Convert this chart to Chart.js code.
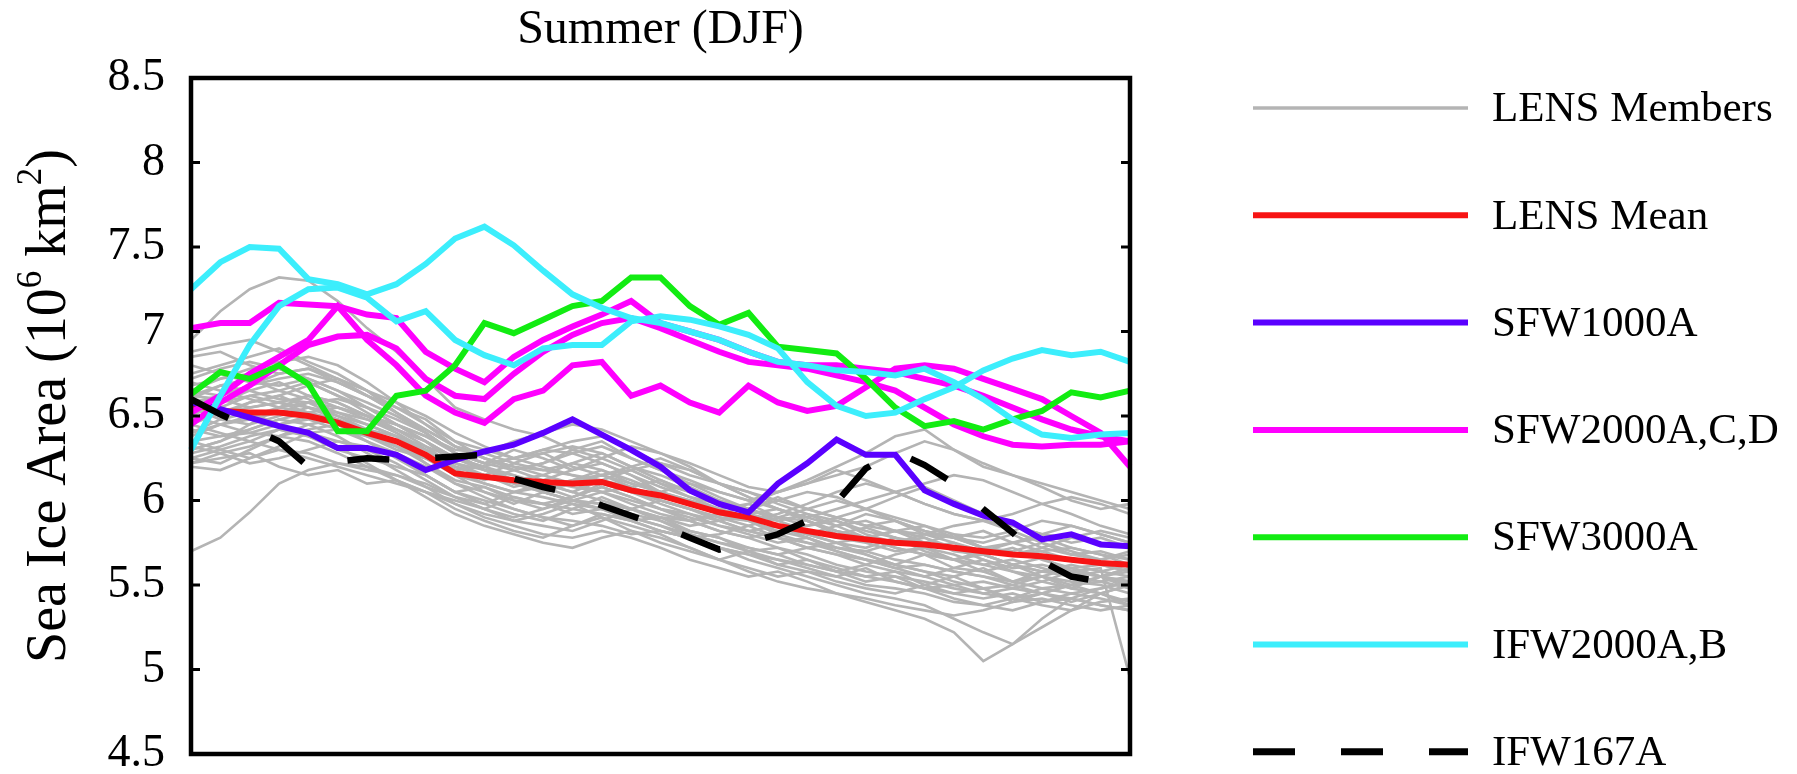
<!DOCTYPE html>
<html><head><meta charset="utf-8">
<script src="https://cdn.jsdelivr.net/npm/chart.js@4.4.0/dist/chart.umd.min.js"></script>
<style>html,body{margin:0;padding:0;background:#fff;overflow:hidden}</style>
</head><body>
<canvas id="c" width="1797" height="774"></canvas>
<script>
const years = ['2018','2019','2020','2021','2022','2023','2024','2025','2026','2027','2028','2029','2030','2031','2032','2033','2034','2035','2036','2037','2038','2039','2040','2041','2042','2043','2044','2045','2046','2047','2048','2049','2050'];
const yTicks = [4.5,5,5.5,6,6.5,7,7.5,8,8.5];

const lensMembers = [
[6.95,7.12,7.25,7.32,7.30,7.18,7.02,6.88,6.72,6.55,6.48,6.42,6.38,6.30,6.25,6.18,6.10,6.05,5.98,5.92,5.95,5.88,5.80,5.84,5.78,5.72,5.75,5.68,5.62,5.66,5.58,5.55,5.52],
[5.70,5.78,5.93,6.10,6.18,6.22,6.20,6.15,6.08,6.02,5.95,5.88,5.92,5.98,5.90,5.85,5.80,5.72,5.65,5.70,5.62,5.58,5.55,5.60,5.52,5.48,5.50,5.45,5.42,5.48,5.50,5.45,5.40],
[6.85,6.88,6.80,6.75,6.78,6.70,6.62,6.55,6.48,6.35,6.30,6.25,6.28,6.20,6.15,6.18,6.10,6.02,5.95,5.98,5.90,5.85,5.88,5.80,5.75,5.78,5.70,5.68,5.72,5.65,5.60,5.62,5.58],
[6.22,6.25,6.28,6.20,6.15,6.18,6.10,6.12,6.05,6.00,5.95,6.02,5.98,5.92,5.95,5.88,5.90,5.82,5.78,5.70,5.72,5.65,5.60,5.55,5.58,5.50,5.45,5.48,5.40,5.42,5.38,5.35,5.38],
[6.60,6.68,6.72,6.65,6.70,6.62,6.55,6.48,6.40,6.28,6.22,6.30,6.25,6.18,6.22,6.15,6.05,6.10,6.02,5.95,5.88,5.92,5.85,5.78,5.82,5.75,5.80,5.72,5.70,5.75,5.68,5.65,5.70],
[6.45,6.40,6.35,6.42,6.38,6.30,6.25,6.20,6.15,6.05,6.08,6.00,5.95,6.02,6.10,6.05,5.98,5.92,5.85,5.80,5.75,5.78,5.70,5.65,5.62,5.68,5.60,5.58,5.62,5.55,5.50,5.55,5.48],
[6.75,6.80,6.85,6.90,6.82,6.75,6.65,6.52,6.42,6.32,6.25,6.20,6.15,6.22,6.28,6.20,6.15,6.08,6.00,5.95,6.02,5.95,5.90,5.85,5.88,5.80,5.78,5.82,5.75,5.70,5.72,5.68,5.65],
[6.30,6.35,6.45,6.55,6.58,6.50,6.42,6.35,6.22,6.10,6.05,5.98,6.05,6.12,6.15,6.08,6.00,5.95,5.90,5.85,5.78,5.72,5.75,5.68,5.62,5.58,5.55,5.60,5.52,5.55,5.48,5.45,5.50],
[6.55,6.50,6.58,6.62,6.55,6.48,6.38,6.30,6.25,6.18,6.12,6.18,6.22,6.30,6.35,6.25,6.18,6.12,6.05,6.00,5.95,5.90,5.85,5.88,5.82,5.85,5.78,5.75,5.80,5.72,5.68,5.70,5.65],
[6.40,6.48,6.52,6.45,6.40,6.35,6.32,6.28,6.20,6.10,6.02,5.95,5.90,5.85,5.92,5.88,5.82,5.78,5.72,5.68,5.62,5.65,5.58,5.52,5.55,5.48,5.45,5.42,5.45,5.40,5.42,5.38,5.35],
[6.65,6.72,6.78,6.82,6.85,6.80,6.70,6.58,6.45,6.32,6.25,6.18,6.12,6.08,6.05,6.00,5.95,5.92,5.88,5.82,5.85,5.80,5.75,5.72,5.78,5.70,5.65,5.68,5.62,5.58,5.60,5.55,5.52],
[6.25,6.22,6.30,6.38,6.45,6.48,6.40,6.32,6.25,6.18,6.20,6.12,6.05,6.00,6.05,5.98,5.92,5.88,5.82,5.78,5.82,5.85,5.90,5.95,6.02,6.08,6.00,5.92,5.85,5.80,5.75,5.78,5.72],
[6.50,6.58,6.65,6.70,6.62,6.55,6.50,6.42,6.32,6.20,6.15,6.08,6.12,6.18,6.25,6.32,6.28,6.20,6.10,6.05,5.98,5.92,5.88,5.82,5.78,5.75,5.72,5.65,5.60,5.62,5.58,5.55,5.58],
[6.35,6.30,6.25,6.32,6.40,6.42,6.35,6.28,6.15,6.05,5.98,5.92,5.88,5.95,6.02,5.95,5.88,5.80,5.75,5.70,5.65,5.60,5.55,5.50,5.48,5.45,5.40,5.38,5.42,5.45,5.50,5.52,5.48],
[6.70,6.65,6.60,6.55,6.62,6.58,6.50,6.45,6.38,6.30,6.28,6.35,6.40,6.45,6.42,6.35,6.28,6.22,6.15,6.08,6.05,6.10,6.18,6.12,6.05,5.98,5.92,5.88,5.85,5.80,5.78,5.75,5.72],
[6.28,6.32,6.38,6.42,6.38,6.32,6.22,6.12,6.05,5.95,5.88,5.82,5.78,5.85,5.90,5.82,5.75,5.70,5.65,5.60,5.55,5.58,5.52,5.48,5.45,5.50,5.55,5.48,5.42,5.38,5.35,5.40,5.42],
[6.80,6.75,6.70,6.68,6.72,6.65,6.58,6.50,6.40,6.28,6.18,6.12,6.15,6.10,6.05,6.08,6.12,6.05,5.98,5.92,5.88,5.82,5.78,5.75,5.70,5.72,5.68,5.62,5.65,5.60,5.55,5.58,5.62],
[6.45,6.52,6.58,6.62,6.68,6.72,6.65,6.55,6.45,6.35,6.25,6.20,6.18,6.22,6.18,6.10,6.05,5.98,5.92,5.88,5.80,5.75,5.72,5.70,5.75,5.80,5.85,5.88,5.82,5.75,5.70,5.65,5.68],
[6.20,6.18,6.25,6.30,6.28,6.22,6.18,6.15,6.10,6.02,5.98,6.05,6.10,6.05,6.00,5.95,5.90,5.85,5.88,5.92,5.85,5.78,5.72,5.68,5.62,5.58,5.52,5.48,5.50,5.55,5.60,5.55,5.50],
[6.62,6.60,6.55,6.58,6.52,6.48,6.42,6.38,6.30,6.22,6.18,6.15,6.10,6.05,6.12,6.18,6.22,6.18,6.10,6.02,5.95,5.90,5.95,6.00,6.05,6.10,6.15,6.12,6.05,5.98,5.92,5.85,5.80],
[6.38,6.45,6.50,6.55,6.52,6.45,6.35,6.25,6.15,6.05,6.00,5.95,5.90,5.88,5.85,5.80,5.82,5.78,5.72,5.68,5.65,5.62,5.58,5.55,5.52,5.48,5.42,5.38,5.35,5.40,5.45,5.42,5.38],
[6.58,6.62,6.68,6.72,6.75,6.70,6.62,6.52,6.40,6.28,6.22,6.25,6.30,6.28,6.22,6.15,6.08,6.02,5.98,5.95,6.00,6.05,6.02,5.95,5.90,5.85,5.80,5.78,5.82,5.88,5.85,5.80,5.75],
[6.32,6.28,6.22,6.25,6.30,6.35,6.30,6.22,6.12,6.02,5.95,5.90,5.95,6.00,5.95,5.90,5.85,5.78,5.72,5.65,5.60,5.55,5.50,5.45,5.42,5.38,5.30,5.22,5.15,5.25,5.35,5.45,5.50],
[6.52,6.55,6.50,6.45,6.48,6.42,6.38,6.32,6.25,6.15,6.10,6.05,6.08,6.12,6.18,6.12,6.05,6.00,5.95,5.90,5.85,5.80,5.85,5.92,5.88,5.82,5.78,5.72,5.68,5.70,5.65,5.62,5.58],
[6.68,6.72,6.75,6.78,6.72,6.65,6.55,6.45,6.35,6.22,6.15,6.10,6.05,6.00,5.98,5.92,5.88,5.82,5.78,5.72,5.68,5.72,5.68,5.62,5.58,5.55,5.50,5.52,5.48,5.45,5.50,5.55,5.60],
[6.42,6.38,6.42,6.48,6.52,6.55,6.48,6.40,6.30,6.20,6.15,6.22,6.28,6.32,6.28,6.20,6.12,6.05,6.00,5.95,5.90,5.88,5.82,5.78,5.72,5.68,5.65,5.62,5.58,5.55,5.52,5.50,5.45],
[6.48,6.55,6.62,6.65,6.60,6.52,6.45,6.38,6.28,6.15,6.05,6.00,5.98,5.95,5.92,5.88,5.82,5.78,5.80,5.85,5.90,5.95,6.00,5.95,5.88,5.82,5.78,5.72,5.75,5.78,5.72,5.68,5.62],
[6.60,6.58,6.62,6.58,6.55,6.50,6.45,6.38,6.32,6.25,6.20,6.15,6.08,6.02,6.08,6.02,5.95,5.90,5.85,5.82,5.78,5.72,5.68,5.65,5.60,5.62,5.58,5.55,5.50,5.45,5.40,5.45,5.38],
[6.25,6.30,6.35,6.30,6.25,6.20,6.15,6.10,6.05,5.98,5.92,5.88,5.85,5.82,5.88,5.95,6.00,5.95,5.88,5.82,5.78,5.75,5.70,5.65,5.60,5.55,5.60,5.65,5.58,5.52,5.48,5.55,5.60],
[6.72,6.78,6.82,6.78,6.70,6.62,6.52,6.42,6.35,6.25,6.20,6.25,6.30,6.35,6.38,6.30,6.22,6.15,6.10,6.05,6.00,5.95,5.90,5.85,5.82,5.80,5.75,5.70,5.68,5.72,5.78,5.82,5.78],
[6.35,6.38,6.40,6.45,6.50,6.45,6.40,6.32,6.22,6.12,6.08,6.02,5.98,6.02,6.08,6.02,5.95,5.88,5.82,5.78,5.72,5.68,5.62,5.58,5.55,5.52,5.48,5.45,5.48,5.52,5.58,5.60,4.95],
[6.55,6.48,6.45,6.50,6.55,6.52,6.48,6.42,6.35,6.25,6.18,6.12,6.05,6.00,5.98,5.95,5.90,5.88,5.92,5.98,6.05,6.10,6.15,6.20,6.28,6.35,6.30,6.22,6.15,6.08,6.00,5.95,5.98],
[6.30,6.35,6.42,6.48,6.45,6.38,6.28,6.18,6.08,5.98,5.90,5.85,5.80,5.78,5.82,5.78,5.72,5.65,5.60,5.55,5.58,5.52,5.45,5.40,5.35,5.30,5.22,5.05,5.15,5.30,5.42,5.48,5.52],
[6.62,6.68,6.65,6.60,6.58,6.55,6.50,6.45,6.38,6.28,6.22,6.18,6.22,6.28,6.32,6.25,6.18,6.10,6.05,6.00,6.05,6.12,6.20,6.28,6.38,6.42,6.30,6.20,6.15,6.10,6.05,6.00,5.95],
[6.40,6.45,6.48,6.52,6.58,6.60,6.55,6.45,6.35,6.25,6.18,6.12,6.08,6.12,6.15,6.10,6.05,6.00,5.95,5.90,5.85,5.80,5.75,5.78,5.82,5.78,5.72,5.68,5.62,5.58,5.55,5.52,5.55],
[6.88,6.92,6.95,6.88,6.80,6.72,6.62,6.52,6.42,6.32,6.28,6.22,6.18,6.15,6.10,6.05,6.00,5.95,5.90,5.88,5.82,5.78,5.72,5.70,5.65,5.62,5.58,5.55,5.52,5.58,5.62,5.58,5.55],
[6.50,6.45,6.40,6.38,6.42,6.45,6.40,6.35,6.28,6.20,6.15,6.10,6.05,6.10,6.15,6.20,6.25,6.18,6.10,6.02,5.95,5.88,5.82,5.78,5.72,5.68,5.65,5.70,5.75,5.80,5.85,5.80,5.75],
[6.22,6.28,6.32,6.38,6.35,6.28,6.20,6.12,6.02,5.92,5.85,5.80,5.75,5.72,5.78,5.82,5.78,5.72,5.65,5.58,5.52,5.48,5.45,5.42,5.38,5.35,5.32,5.35,5.40,5.45,5.42,5.38,5.35],
[6.65,6.62,6.68,6.75,6.78,6.72,6.65,6.58,6.50,6.40,6.32,6.25,6.20,6.15,6.12,6.08,6.02,5.98,5.92,5.88,5.92,5.98,6.05,6.10,6.05,5.98,5.92,5.88,5.92,5.98,6.02,5.98,5.92],
[6.48,6.52,6.55,6.58,6.62,6.58,6.50,6.40,6.30,6.18,6.10,6.05,6.02,5.98,5.95,5.90,5.85,5.80,5.75,5.72,5.68,5.62,5.58,5.62,5.68,5.72,5.65,5.58,5.52,5.48,5.45,5.48,5.52]
];
const lensMean = [6.57,6.53,6.52,6.52,6.50,6.46,6.40,6.35,6.27,6.16,6.14,6.12,6.11,6.10,6.11,6.06,6.03,5.98,5.93,5.90,5.85,5.82,5.79,5.77,5.75,5.74,5.72,5.70,5.68,5.67,5.65,5.63,5.62];
const sfw1000A = [6.58,6.54,6.49,6.44,6.40,6.31,6.31,6.27,6.18,6.24,6.29,6.33,6.40,6.48,6.39,6.30,6.20,6.06,5.98,5.93,6.10,6.22,6.36,6.27,6.27,6.06,5.98,5.91,5.87,5.77,5.80,5.74,5.73];
const sfw2000A = [7.02,7.05,7.05,7.17,7.16,7.15,7.10,7.08,6.88,6.78,6.70,6.85,6.95,7.03,7.10,7.18,7.05,7.00,6.95,6.88,6.82,6.80,6.80,6.78,6.76,6.72,6.68,6.62,6.55,6.48,6.42,6.38,6.35];
const sfw2000C = [6.52,6.62,6.75,6.85,6.95,7.15,6.95,6.80,6.62,6.52,6.46,6.60,6.65,6.80,6.82,6.62,6.68,6.58,6.52,6.68,6.58,6.53,6.56,6.67,6.78,6.80,6.78,6.72,6.66,6.60,6.50,6.40,6.20];
const sfw2000D = [6.45,6.58,6.68,6.80,6.92,6.97,6.98,6.90,6.72,6.62,6.60,6.75,6.88,6.98,7.05,7.08,7.02,6.95,6.88,6.82,6.80,6.78,6.74,6.70,6.65,6.55,6.45,6.38,6.33,6.32,6.33,6.33,6.35];
const sfw3000A = [6.63,6.76,6.72,6.80,6.69,6.41,6.41,6.62,6.65,6.80,7.05,6.99,7.07,7.15,7.18,7.32,7.32,7.15,7.04,7.11,6.91,6.89,6.87,6.72,6.55,6.44,6.47,6.42,6.48,6.53,6.64,6.61,6.65];
const ifw2000A = [7.25,7.41,7.50,7.49,7.31,7.28,7.22,7.28,7.40,7.55,7.62,7.51,7.36,7.22,7.14,7.08,7.05,7.00,6.95,6.88,6.82,6.80,6.77,6.76,6.74,6.78,6.70,6.60,6.48,6.39,6.37,6.39,6.40];
const ifw2000B = [6.30,6.62,6.92,7.15,7.25,7.26,7.20,7.06,7.12,6.95,6.86,6.80,6.90,6.92,6.92,7.06,7.09,7.07,7.03,6.98,6.90,6.70,6.56,6.50,6.52,6.60,6.67,6.77,6.84,6.89,6.86,6.88,6.82];
const ifw167A = [6.60,6.51,6.43,6.35,6.20,6.23,6.25,6.24,6.25,6.26,6.27,6.13,6.08,6.04,5.97,5.91,5.85,5.78,5.71,5.75,5.80,5.88,5.99,6.19,6.29,6.21,6.10,5.95,5.81,5.64,5.55,5.52,5.50];

const GRAY = '#b4b4b4', RED = '#f71414', BLUE = '#5a00ff', MAG = '#ff00ff', GREEN = '#12ec12', CYAN = '#3ceefc', BLACK = '#000000';
const FONT = '"Liberation Serif", "Times New Roman", serif';

const datasets = [];
lensMembers.forEach((m, k) => datasets.push({
  label: k === 0 ? 'LENS Members' : 'LENS Member ' + (k + 1), data: m,
  borderColor: GRAY, borderWidth: 2.6, order: 10, showInLegend: k === 0, legendWidth: 3.5
}));
datasets.push({label: 'LENS Mean', data: lensMean, borderColor: RED, borderWidth: 6, order: 6, showInLegend: true, legendWidth: 6});
datasets.push({label: 'SFW1000A', data: sfw1000A, borderColor: BLUE, borderWidth: 6, order: 5, showInLegend: true, legendWidth: 6});
datasets.push({label: 'SFW2000A,C,D', data: sfw2000A, borderColor: MAG, borderWidth: 6, order: 4, showInLegend: true, legendWidth: 6});
datasets.push({label: 'SFW2000C', data: sfw2000C, borderColor: MAG, borderWidth: 6, order: 4, showInLegend: false});
datasets.push({label: 'SFW2000D', data: sfw2000D, borderColor: MAG, borderWidth: 6, order: 4, showInLegend: false});
datasets.push({label: 'SFW3000A', data: sfw3000A, borderColor: GREEN, borderWidth: 6, order: 3, showInLegend: true, legendWidth: 6});
datasets.push({label: 'IFW2000A,B', data: ifw2000A, borderColor: CYAN, borderWidth: 6, order: 2, showInLegend: true, legendWidth: 6});
datasets.push({label: 'IFW2000B', data: ifw2000B, borderColor: CYAN, borderWidth: 6, order: 2, showInLegend: false});
datasets.push({label: 'IFW167A', data: ifw167A, borderColor: BLACK, borderWidth: 6.5, borderDash: [42, 46], order: 1, showInLegend: true, legendWidth: 7});

const decor = {
  id: 'decor',
  afterDatasetsDraw(chart) {
    const {ctx, chartArea: a, scales: {y}} = chart;
    ctx.save();
    ctx.strokeStyle = '#000';
    ctx.lineWidth = 3;
    y.ticks.forEach(t => {
      const py = y.getPixelForValue(t.value);
      ctx.beginPath();
      ctx.moveTo(a.left, py); ctx.lineTo(a.left + 9, py);
      ctx.moveTo(a.right, py); ctx.lineTo(a.right - 9, py);
      ctx.stroke();
    });
    ctx.lineWidth = 4.5;
    ctx.strokeRect(a.left, a.top, a.right - a.left, a.bottom - a.top);
    ctx.restore();
  },
  afterDraw(chart) {
    const {ctx, chartArea: a} = chart;
    ctx.save();
    ctx.fillStyle = '#000';
    // title
    ctx.font = '48px ' + FONT;
    ctx.textAlign = 'center';
    ctx.textBaseline = 'alphabetic';
    ctx.fillText('Summer (DJF)', (a.left + a.right) / 2, 43);
    // y axis title with superscripts
    const parts = [['Sea Ice Area (10', 0], ['6', 1], [' km', 0], ['2', 1], [')', 0]];
    const big = '56px ' + FONT, small = '35px ' + FONT;
    let total = 0;
    parts.forEach(p => { ctx.font = p[1] ? small : big; total += ctx.measureText(p[0]).width; });
    ctx.translate(46, (a.top + a.bottom) / 2 - 10);
    ctx.rotate(-Math.PI / 2);
    ctx.textAlign = 'left';
    let x = -total / 2;
    parts.forEach(p => {
      ctx.font = p[1] ? small : big;
      ctx.fillText(p[0], x, p[1] ? -5 : 18.5);
      x += ctx.measureText(p[0]).width;
    });
    ctx.restore();
    // legend
    ctx.save();
    const items = chart.data.datasets.filter(d => d.showInLegend);
    const rowY0 = 108, rowStep = 107.3, lx0 = 1253, lx1 = 1468, tx = 1492;
    items.forEach((d, i) => {
      const yy = rowY0 + i * rowStep;
      ctx.strokeStyle = d.borderColor;
      ctx.lineWidth = d.legendWidth;
      ctx.setLineDash(d.borderDash || []);
      ctx.beginPath(); ctx.moveTo(lx0, yy); ctx.lineTo(lx1, yy); ctx.stroke();
      ctx.setLineDash([]);
      ctx.fillStyle = '#000';
      ctx.font = '43px ' + FONT;
      ctx.textAlign = 'left';
      ctx.textBaseline = 'middle';
      ctx.fillText(d.label, tx, yy + 2);
    });
    ctx.restore();
  }
};

new Chart(document.getElementById('c'), {
  type: 'line',
  data: {labels: years, datasets},
  options: {
    responsive: false, animation: false, events: [],
    layout: {padding: {left: 0, top: 78, right: 667, bottom: 20}},
    elements: {point: {radius: 0}, line: {tension: 0, borderCapStyle: 'butt', borderJoinStyle: 'miter'}},
    plugins: {legend: {display: false}, tooltip: {enabled: false}, title: {display: false}},
    scales: {
      x: {type: 'category', display: false},
      y: {
        min: 4.5, max: 8.5,
        afterBuildTicks(s) { s.ticks = yTicks.map(v => ({value: v})); },
        afterFit(s) { s.width = 191; s.paddingTop = 0; s.paddingBottom = 0; },
        grid: {display: false, drawTicks: false},
        border: {display: false},
        ticks: {color: '#000', padding: 26, font: {family: FONT, size: 46, lineHeight: 0.8}, callback: v => String(v)}
      }
    }
  },
  plugins: [decor]
});
</script>
</body></html>
